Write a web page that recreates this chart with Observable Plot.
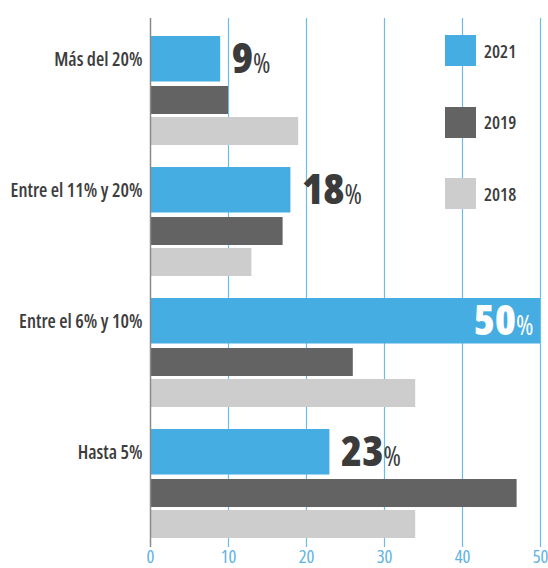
<!DOCTYPE html>
<html>
<head>
<meta charset="utf-8">
<script src="https://cdn.jsdelivr.net/npm/d3@7"></script>
<script src="https://cdn.jsdelivr.net/npm/@observablehq/plot@0.6"></script>
<style>
  html, body { margin: 0; padding: 0; background: #fff; }
  #wrap { position: relative; width: 548px; height: 568px; font-family: "Open Sans", sans-serif; }
  #legend { position: absolute; left: 445px; top: 35px; display: flex; flex-direction: column; gap: 40.5px; }
  .item { display: flex; align-items: center; height: 31px; }
  .sw { width: 31px; height: 31px; margin-right: 8px; }
  .lab { font-size: 18px; font-weight: 600; font-stretch: 75%; color: #3d3d3d; }
  g[aria-label="y-axis tick label"] { font-stretch: 75%; }
  g[aria-label="x-axis tick label"] { font-stretch: 75%; }
  g[aria-label="text"] { font-stretch: 75%; }
</style>
</head>
<body>
<div id="wrap"><div id="legend"></div></div>
<script>
const categories = ["Más del 20%", "Entre el 11% y 20%", "Entre el 6% y 10%", "Hasta 5%"];
const series = ["2021", "2019", "2018"];
const values2021 = [9, 18, 50, 23];
const values2019 = [10, 17, 26, 47];
const values2018 = [19, 13, 34, 34];
const xTicks = [0, 10, 20, 30, 40, 50];
const colors = ["#45ade2", "#636363", "#cdcdcd"];

const valuesBySeries = {"2021": values2021, "2019": values2019, "2018": values2018};
const rows = series.flatMap(s => categories.map((c, i) => ({series: s, category: c, value: valuesBySeries[s][i]})));
const r2021 = rows.filter(d => d.series === "2021");
const r2019 = rows.filter(d => d.series === "2019");
const r2018 = rows.filter(d => d.series === "2018");

const plot = Plot.plot({
  width: 548,
  height: 568,
  marginLeft: 150,
  marginRight: 8,
  marginTop: 18,
  marginBottom: 21,
  style: {fontFamily: "'Open Sans', sans-serif", background: "transparent", overflow: "visible"},
  x: {domain: [0, 50], ticks: xTicks},
  y: {domain: categories, paddingInner: 0, paddingOuter: 0.019, round: false},
  color: {domain: series, range: colors},
  marks: [
    Plot.gridX(xTicks.filter(t => t > 0), {stroke: "#6bbce8", strokeOpacity: 1, strokeWidth: 1.2}),
    Plot.barX(r2021, {x: "value", y: "category", fill: "series", insetTop: 15.5, insetBottom: 70}),
    Plot.barX(r2019, {x: "value", y: "category", fill: "series", insetTop: 65.5, insetBottom: 37.5}),
    Plot.barX(r2018, {x: "value", y: "category", fill: "series", insetTop: 96.5, insetBottom: 6.5}),
    Plot.ruleX([0], {stroke: "#8a8a8a", strokeWidth: 1.5}),
    Plot.axisX({ticks: xTicks, tickSize: 0, tickPadding: 2, fontSize: 18.5, fontWeight: 400, fill: "#5db3e4", label: null}),
    Plot.axisY({tickSize: 0, tickPadding: 8, dy: -27, fontSize: 19, fontWeight: 600, fill: "#3d3d3d", label: null}),
    Plot.text(r2021.filter(d => d.value < 45), {
      x: "value", y: "category", text: d => String(d.value),
      textAnchor: "start", dx: 11, dy: -27, fontSize: 43, fontWeight: 800, fill: "#3b3b3b"
    }),
    Plot.text(r2021.filter(d => d.value >= 45), {
      x: "value", y: "category", text: d => String(d.value),
      textAnchor: "end", dx: -7, dy: -27, fontSize: 43, fontWeight: 800, fill: "#ffffff"
    })
  ]
});

d3.select(plot).selectAll('g[aria-label="text"] text').each(function() {
  const t = this.textContent;
  const sel = d3.select(this);
  sel.text("");
  sel.append("tspan").text(t);
  sel.append("tspan").attr("font-size", "0.62em").attr("font-weight", "500").text("%");
});

document.getElementById("wrap").appendChild(plot);

const legend = d3.select("#legend");
series.forEach((s, i) => {
  const item = legend.append("div").attr("class", "item");
  item.append("div").attr("class", "sw").style("background", colors[i]);
  item.append("div").attr("class", "lab").text(s);
});
</script>
</body>
</html>
